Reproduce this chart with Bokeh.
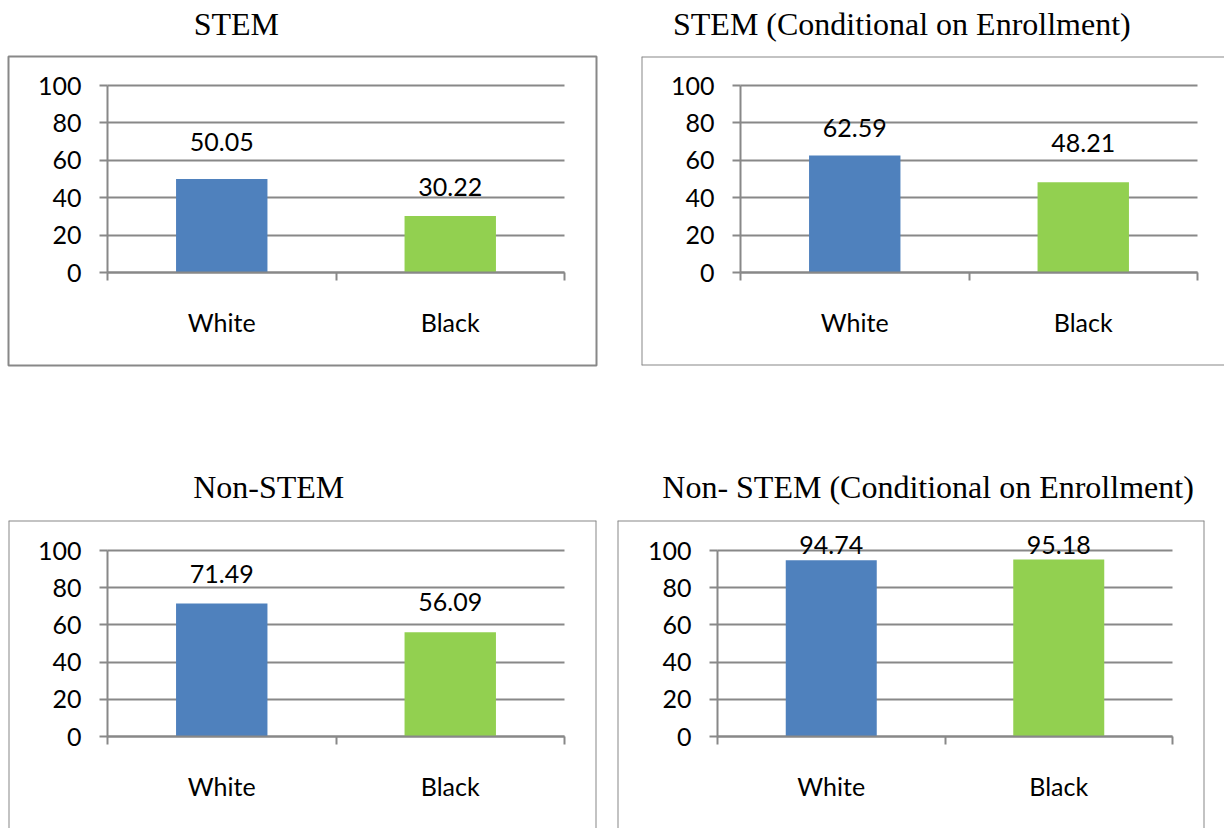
from bokeh.plotting import figure
from bokeh.models import (LinearAxis, Grid, FixedTicker, Range1d, ColumnDataSource,
                          LabelSet, Label, Span)
from bokeh.layouts import row, column
from bokeh.embed import file_html
from bokeh.resources import INLINE
from bokeh.core.properties import value

# ---------------- data ----------------
categories = ["White", "Black"]
titles = ["STEM", "STEM (Conditional on Enrollment)",
          "Non-STEM", "Non- STEM (Conditional on Enrollment)"]
stem = [50.05, 30.22]
stem_conditional = [62.59, 48.21]
non_stem = [71.49, 56.09]
non_stem_conditional = [94.74, 95.18]
y_ticks = [0, 20, 40, 60, 80, 100]

# ---------------- styles ----------------
bar_colors = ["#4F81BD", "#92D050"]
GRAY = "#888888"
LABEL_FONT = "Lato"
TITLE_FONT = "Liberation Serif"
FS = "25px"

# page-pixel geometry of each panel (canvas x, y, w, h; frame l, t, r, b;
# pixel x of category axis 0 and end; pixel y of value 0 and 100; title left / middle)
specs = [
    dict(canvas=(0, 0, 632, 440), frame=(8, 56, 596, 365), px=(107, 564), py=(272, 85),
         title_pos=(199, 23), borders="all", lab_off=[28, 20]),
    dict(canvas=(632, 0, 592, 440), frame=(641, 56, 1224, 365), px=(740, 1197), py=(272, 85),
         title_pos=(664, 23), borders="ltb", lab_off=[18, 30]),
    dict(canvas=(0, 440, 608, 388), frame=(8, 520, 596, 828), px=(107, 564), py=(736, 550),
         title_pos=(191, 486), borders="ltr", lab_off=[21, 21]),
    dict(canvas=(608, 440, 616, 388), frame=(617, 520, 1204, 828), px=(717, 1172), py=(736, 550),
         title_pos=(655, 486), borders="ltr", lab_off=[6, 5]),
]


def make_title(title, spec):
    cx, cy, cw, ch = spec["canvas"]
    fl, ft, fr, fb = spec["frame"]
    th = ft - 1 - cy
    tx, ty = spec["title_pos"]
    t = figure(width=cw, height=th, x_range=Range1d(0, cw), y_range=Range1d(0, th),
               x_axis_type=None, y_axis_type=None, toolbar_location=None,
               output_backend="svg", min_border=0, title=None)
    t.outline_line_color = None
    t.background_fill_color = "white"
    t.border_fill_color = "white"
    t.add_layout(Label(x=tx - cx, y=th - (ty - cy), text=title,
                       text_font=TITLE_FONT, text_font_size="32px",
                       text_align="left", text_baseline="middle",
                       text_color="black"))
    return t


def make_panel(title, vals, spec):
    cx, cy, cw, ch = spec["canvas"]
    fl, ft, fr, fb = spec["frame"]
    top = ft - 1
    h = cy + ch - top
    pl, pr = spec["px"]
    y0, y100 = spec["py"]
    n = len(categories)
    sxu = (pr - pl) / n
    syu = (y0 - y100) / 100.0
    xr = Range1d((fl - pl) / sxu, (fr - pl) / sxu)
    yr = Range1d((y0 - fb) / syu, (y0 - ft) / syu)
    p = figure(width=cw, height=h, x_range=xr, y_range=yr,
               x_axis_type=None, y_axis_type=None,
               toolbar_location=None, output_backend="svg",
               min_border_left=fl - cx, min_border_right=cx + cw - fr,
               min_border_top=1, min_border_bottom=cy + ch - fb,
               title=None)
    p.background_fill_color = "white"
    p.border_fill_color = "white"
    if spec["borders"] == "all":
        p.outline_line_color = GRAY
        p.outline_line_width = 2
    else:
        p.outline_line_color = None
        b = spec["borders"]
        if "l" in b:
            p.add_layout(Span(location=xr.start, dimension="height", line_color=GRAY, line_width=2))
        if "r" in b:
            p.add_layout(Span(location=xr.end, dimension="height", line_color=GRAY, line_width=2))
        if "t" in b:
            p.add_layout(Span(location=yr.end, dimension="width", line_color=GRAY, line_width=2))
        if "b" in b:
            p.add_layout(Span(location=yr.start, dimension="width", line_color=GRAY, line_width=2))

    yticker = FixedTicker(ticks=y_ticks, minor_ticks=[])
    yaxis = LinearAxis(ticker=yticker, fixed_location=0, bounds=(0, 100),
                       axis_line_color=GRAY, axis_line_width=2,
                       major_tick_line_color=GRAY, major_tick_line_width=2,
                       major_tick_out=8, major_tick_in=0,
                       minor_tick_line_color=None,
                       major_label_text_font=LABEL_FONT,
                       major_label_text_font_size=FS,
                       major_label_text_color="black",
                       major_label_standoff=18)
    p.add_layout(yaxis, "left")

    centers = [i + 0.5 for i in range(n)]
    xaxis = LinearAxis(ticker=FixedTicker(ticks=centers, minor_ticks=list(range(n + 1))),
                       fixed_location=0, bounds=(0, n),
                       major_label_overrides={c: cat for c, cat in zip(centers, categories)},
                       axis_line_color=GRAY, axis_line_width=2,
                       major_tick_line_color=None, major_tick_out=8, major_tick_in=0,
                       minor_tick_line_color=GRAY, minor_tick_line_width=2,
                       minor_tick_out=8, minor_tick_in=0,
                       major_label_text_font=LABEL_FONT,
                       major_label_text_font_size=FS,
                       major_label_text_color="black",
                       major_label_standoff=26)
    p.add_layout(xaxis, "below")

    grid = Grid(dimension=1, ticker=yticker, grid_line_color=GRAY, grid_line_width=2)
    if "cross_bounds" in Grid.properties():
        grid.cross_bounds = (0, n)
    p.add_layout(grid)

    src = ColumnDataSource(dict(x=centers, top=vals, color=bar_colors[:n],
                                label=[f"{v:.2f}" for v in vals],
                                off=spec["lab_off"]))
    p.vbar(x="x", top="top", bottom=0, width=0.4, fill_color="color",
           line_color=None, source=src)
    labels = LabelSet(x="x", y="top", text="label", source=src,
                      text_align="center", text_baseline="alphabetic",
                      y_offset="off", text_font=value(LABEL_FONT),
                      text_font_size=value(FS), text_color="black")
    p.add_layout(labels)
    return column(make_title(title, spec), p, spacing=0)


series = [stem, stem_conditional, non_stem, non_stem_conditional]
panels = [make_panel(t, s, sp) for t, s, sp in zip(titles, series, specs)]
layout = column(row(panels[0], panels[1], spacing=0),
                row(panels[2], panels[3], spacing=0), spacing=0)
open("out.html", "w").write(file_html(layout, INLINE))
